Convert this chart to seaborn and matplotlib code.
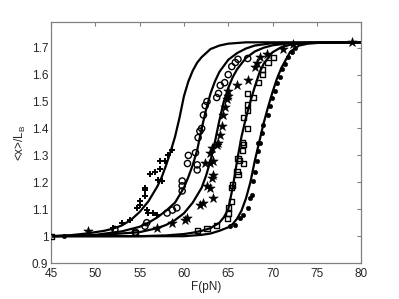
import matplotlib
matplotlib.use("Agg")
import matplotlib.pyplot as plt
import seaborn as sns

# fitted curves
c1_f = [45, 47, 49, 51, 52, 53, 54, 55, 56, 57, 57.5, 58, 58.5, 59, 59.5, 60, 60.5, 61, 61.5, 62, 63, 64, 65, 67, 80]
c1_y = [1.0, 1.003, 1.01, 1.02, 1.028, 1.04, 1.06, 1.09, 1.13, 1.185, 1.22, 1.265, 1.315, 1.37, 1.44, 1.52, 1.575,
        1.615, 1.645, 1.665, 1.695, 1.708, 1.715, 1.72, 1.72]

c2_f = [45, 50, 53, 55, 56, 57, 58, 59, 60, 60.5, 61, 61.5, 62, 62.5, 63, 63.5, 64, 65, 66, 67, 68, 70, 80]
c2_y = [1.0, 1.005, 1.018, 1.035, 1.05, 1.07, 1.095, 1.125, 1.18, 1.22, 1.265, 1.32, 1.40, 1.47, 1.53, 1.575, 1.61,
        1.655, 1.68, 1.697, 1.708, 1.717, 1.72]

c3_f = [45, 50, 55, 57, 58, 59, 60, 61, 62, 62.5, 63, 63.5, 64, 64.5, 65, 65.5, 66, 67, 68, 69, 70, 72, 80]
c3_y = [1.0, 1.003, 1.015, 1.03, 1.042, 1.06, 1.085, 1.125, 1.18, 1.225, 1.28, 1.35, 1.43, 1.50, 1.55, 1.59, 1.62,
        1.662, 1.686, 1.70, 1.709, 1.717, 1.72]

c4_f = [45, 55, 58, 60, 61, 62, 63, 64, 64.5, 65, 65.5, 66, 66.5, 67, 67.5, 68, 68.5, 69, 70, 71, 72, 74, 80]
c4_y = [1.0, 1.0, 1.003, 1.008, 1.013, 1.02, 1.03, 1.05, 1.07, 1.10, 1.18, 1.28, 1.37, 1.44, 1.50, 1.555, 1.605,
        1.64, 1.683, 1.702, 1.711, 1.718, 1.72]

c5_f = [45, 60, 62, 63, 64, 65, 65.5, 66, 66.5, 67, 67.5, 68, 68.5, 69, 69.5, 70, 70.5, 71, 72, 73, 74, 76, 80]
c5_y = [1.0, 1.0, 1.005, 1.01, 1.02, 1.033, 1.045, 1.065, 1.095, 1.14, 1.20, 1.28, 1.35, 1.42, 1.48, 1.535, 1.585,
        1.625, 1.685, 1.708, 1.715, 1.72, 1.72]

# measured points
plus_f = [52.0, 53.0, 53.9, 54.7, 55.0, 55.0, 55.6, 55.6, 55.6, 55.8, 55.9, 56.2, 56.5, 56.7, 57.0, 57.1, 57.3, 57.3,
          57.5, 57.9, 58.2, 58.6]
plus_y = [1.03, 1.05, 1.06, 1.105, 1.116, 1.13, 1.15, 1.17, 1.18, 1.097, 1.086, 1.23, 1.086, 1.24, 1.08, 1.21, 1.25,
          1.28, 1.205, 1.28, 1.30, 1.32]

circ_f = [52.2, 54.5, 55.6, 55.8, 58.1, 58.7, 59.2, 59.8, 59.8, 59.8, 60.4, 60.5, 61.3, 61.5, 61.5, 61.6, 61.8, 62.0,
          62.2, 62.4, 62.6, 63.7, 63.9, 64.1, 64.6, 65.0, 65.4, 65.8, 66.1, 67.2]
circ_y = [1.025, 1.015, 1.037, 1.05, 1.086, 1.097, 1.105, 1.205, 1.187, 1.168, 1.27, 1.30, 1.31, 1.265, 1.246, 1.366,
          1.39, 1.40, 1.45, 1.485, 1.50, 1.515, 1.53, 1.56, 1.57, 1.60, 1.63, 1.645, 1.657, 1.66]

star_f = [49.2, 57.0, 58.7, 60.1, 60.4, 61.8, 62.2, 63.3, 62.9, 62.6, 63.2, 63.3, 62.4, 62.9, 63.3, 62.9, 63.2, 63.9,
          63.7, 64.1, 64.3, 64.4, 64.6, 64.9, 65.0, 65.0, 66.0, 67.2, 68.0, 68.3, 68.6, 69.4, 71.2, 72.3, 79.0]
star_y = [1.02, 1.03, 1.05, 1.06, 1.067, 1.116, 1.123, 1.14, 1.18, 1.187, 1.216, 1.228, 1.27, 1.27, 1.28, 1.31, 1.328,
          1.347, 1.34, 1.377, 1.41, 1.45, 1.478, 1.51, 1.52, 1.54, 1.56, 1.58, 1.627, 1.645, 1.664, 1.675, 1.694,
          1.713, 1.72]

sq_f = [45.0, 54.5, 61.5, 62.6, 63.7, 64.9, 65.0, 65.0, 65.4, 65.4, 65.5, 66.1, 66.0, 66.3, 66.1, 66.7, 66.6, 66.6,
        66.7, 67.2, 66.7, 67.2, 67.2, 67.8, 67.2, 68.4, 68.9, 68.9, 69.5, 70.1]
sq_y = [1.0, 1.015, 1.022, 1.03, 1.04, 1.067, 1.086, 1.105, 1.13, 1.18, 1.19, 1.228, 1.24, 1.28, 1.29, 1.27, 1.317,
        1.347, 1.34, 1.40, 1.44, 1.466, 1.49, 1.515, 1.53, 1.57, 1.60, 1.62, 1.645, 1.664]

dot_f = [46.5, 65.2, 65.8, 66.3, 66.7, 67.2, 67.5, 67.7, 67.8, 68.0, 68.3, 68.4, 68.4, 68.6, 68.8, 68.9, 69.5, 69.7,
         69.9, 70.3, 70.5, 70.9, 71.1, 71.4, 71.8, 72.2, 72.5]
dot_y = [1.0, 1.037, 1.04, 1.067, 1.078, 1.105, 1.14, 1.153, 1.205, 1.24, 1.28, 1.317, 1.347, 1.347, 1.384, 1.414,
         1.45, 1.485, 1.515, 1.54, 1.57, 1.59, 1.62, 1.638, 1.664, 1.683, 1.70]

x_ticks = [45, 50, 55, 60, 65, 70, 75, 80]
y_ticks = [0.9, 1.0, 1.1, 1.2, 1.3, 1.4, 1.5, 1.6, 1.7]
y_tick_labels = ['0.9', '1', '1.1', '1.2', '1.3', '1.4', '1.5', '1.6', '1.7']

sns.set_style("white")
plt.rcParams['font.family'] = ['Liberation Sans', 'DejaVu Sans']
plt.rcParams['mathtext.default'] = 'regular'

fig = plt.figure(figsize=(3.99, 2.99), dpi=100)
ax = fig.add_axes([0.128, 0.12, 0.777, 0.806])

for cf, cy in [(c1_f, c1_y), (c2_f, c2_y), (c3_f, c3_y), (c4_f, c4_y), (c5_f, c5_y)]:
  sns.lineplot(x=cf, y=cy, ax=ax, color='k', linewidth=1.6, sort=False, estimator=None)

sns.scatterplot(x=plus_f, y=plus_y, ax=ax, marker='+', color='k', s=20, linewidth=1.4, zorder=3)
sns.scatterplot(x=circ_f, y=circ_y, ax=ax, marker='o', fc='none', ec='k', s=20, linewidth=1.0, zorder=3)
sns.scatterplot(x=star_f, y=star_y, ax=ax, marker='*', color='k', ec='k', s=50, linewidth=0.4, zorder=3)
sns.scatterplot(x=sq_f, y=sq_y, ax=ax, marker='s', fc='none', ec='k', s=14, linewidth=1.0, zorder=3)
sns.scatterplot(x=dot_f, y=dot_y, ax=ax, marker='o', color='k', ec='k', s=10, linewidth=0.4, zorder=3)

ax.set_xlim(45, 80)
ax.set_ylim(0.9, 1.795)
ax.set_xticks(x_ticks)
ax.set_yticks(y_ticks)
ax.set_xticklabels([str(t) for t in x_ticks])
ax.set_yticklabels(y_tick_labels)
ax.tick_params(direction='in', length=3, width=0.8, color='#808080', labelsize=8.5,
               top=True, right=True, pad=2)
ax.tick_params(axis='x', pad=3.5)
for sp in ax.spines.values():
  sp.set_color('#808080')
  sp.set_linewidth(0.9)
ax.set_xlabel('F(pN)', fontsize=8.5, labelpad=1)
ax.set_ylabel('<x>/L$_B$', fontsize=8.5, labelpad=3)

fig.savefig('out.png', dpi=100)
